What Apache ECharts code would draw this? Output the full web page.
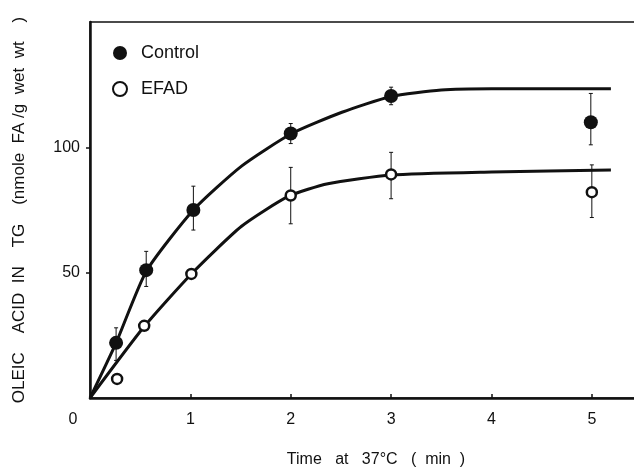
<!DOCTYPE html>
<html>
<head>
<meta charset="utf-8">
<script src="https://cdn.jsdelivr.net/npm/echarts@6/dist/echarts.min.js"></script>
<style>
  html, body { margin: 0; padding: 0; background: #fff; }
  #chart { width: 634px; height: 467px; }
</style>
</head>
<body>
<div id="chart"></div>
<script>
// measured points (time in min, oleic acid in nmole FA / g wet wt)
var controlTime = [0.26, 0.56, 1.03, 2.0, 3.0, 4.99];
var controlVal  = [22, 51, 75, 105.5, 120.5, 110];
var controlLow  = [15, 44.5, 67, 101.5, 117, 101];
var controlHigh = [28, 58.5, 84.5, 109.5, 124, 121.5];

var efadTime = [0.27, 0.54, 1.01, 2.0, 3.0, 5.0];
var efadVal  = [7.6, 28.8, 49.5, 80.8, 89.2, 82.1];
var efadLow  = [null, null, null, 69.5, 79.5, 72];
var efadHigh = [null, null, null, 92, 98, 93];

// hand-drawn fitted curves
var controlCurveX = [0, 0.26, 0.56, 1.03, 1.51, 2.01, 2.51, 3.0, 3.5, 4.0, 5.19];
var controlCurveY = [0, 22, 50.5, 75, 92.5, 105.5, 114, 120.3, 122.9, 123.4, 123.4];
var efadCurveX = [0, 0.54, 1.01, 1.51, 1.98, 2.37, 3.0, 4.0, 5.19];
var efadCurveY = [0, 28.5, 49.5, 68.5, 80.5, 85.5, 89, 90.2, 91];

var xTicks = [0, 1, 2, 3, 4, 5];
var yTicks = [50, 100];

var ink = '#111';

function zip(a, b) {
  return a.map(function (v, i) { return [v, b[i]]; });
}

function errRows(t, lo, hi) {
  var rows = [];
  t.forEach(function (v, i) {
    if (lo[i] != null) rows.push([v, lo[i], hi[i]]);
  });
  return rows;
}

function renderErr(params, api) {
  var top = api.coord([api.value(0), api.value(2)]);
  var bot = api.coord([api.value(0), api.value(1)]);
  var cap = 2;
  var st = { stroke: ink, lineWidth: 1 };
  return {
    type: 'group',
    children: [
      { type: 'line', shape: { x1: top[0], y1: top[1], x2: bot[0], y2: bot[1] }, style: st },
      { type: 'line', shape: { x1: top[0] - cap, y1: top[1], x2: top[0] + cap, y2: top[1] }, style: st },
      { type: 'line', shape: { x1: bot[0] - cap, y1: bot[1], x2: bot[0] + cap, y2: bot[1] }, style: st }
    ]
  };
}

var chart = echarts.init(document.getElementById('chart'), null, { renderer: 'canvas' });

chart.setOption({
  backgroundColor: '#fff',
  animation: false,
  textStyle: { fontFamily: 'Liberation Sans, Arial, sans-serif', color: ink },
  grid: {
    left: 90, top: 22, right: -4, bottom: 69,
    outerBoundsMode: 'none',
    show: true, borderColor: ink, borderWidth: 1.5
  },
  legend: {
    orient: 'vertical',
    left: 107, top: 39,
    itemWidth: 32, itemHeight: 14, itemGap: 18,
    textStyle: { fontSize: 18, color: ink },
    data: [
      { name: 'Control', icon: 'circle', itemStyle: { color: ink, opacity: 1 } },
      { name: 'EFAD', icon: 'emptyCircle', itemStyle: { color: ink, borderColor: ink, borderWidth: 2.5, opacity: 1 } }
    ]
  },
  xAxis: {
    type: 'value',
    min: 0, max: 5.46,
    name: 'Time   at   37°C   (  min  )',
    nameLocation: 'middle',
    nameGap: 54,
    nameTextStyle: { fontSize: 16, color: ink, padding: [0, 0, 0, 24] },
    splitLine: { show: false },
    axisLine: { lineStyle: { color: ink, width: 2.5 } },
    axisTick: { inside: true, length: 4, customValues: [1, 2, 3, 4, 5], lineStyle: { color: ink, width: 1.5 } },
    axisLabel: {
      customValues: xTicks,
      margin: 14,
      fontSize: 16,
      color: ink,
      formatter: function (v) { return v === 0 ? '{o|0}' : String(v); },
      rich: { o: { fontSize: 16, color: ink, padding: [0, 34, 0, 0] } }
    }
  },
  yAxis: {
    type: 'value',
    min: 0, max: 150,
    name: 'OLEIC    ACID  IN    TG    (nmole  FA /g  wet  wt    )',
    nameLocation: 'middle',
    nameGap: 62,
    nameTextStyle: { fontSize: 17, color: ink, padding: [0, 0, 0, 0] },
    splitLine: { show: false },
    axisLine: { show: true, lineStyle: { color: ink, width: 2.5 } },
    axisTick: { show: true, length: 4, customValues: yTicks, lineStyle: { color: ink, width: 1.5 } },
    axisLabel: { customValues: yTicks, margin: 10, fontSize: 16, color: ink }
  },
  series: [
    {
      name: 'Control fit', type: 'line', data: zip(controlCurveX, controlCurveY),
      smooth: 0.2, showSymbol: false, z: 2,
      lineStyle: { color: ink, width: 3 }
    },
    {
      name: 'EFAD fit', type: 'line', data: zip(efadCurveX, efadCurveY),
      smooth: 0.2, showSymbol: false, z: 2,
      lineStyle: { color: ink, width: 3 }
    },
    {
      name: 'Control err', type: 'custom', renderItem: renderErr, z: 3,
      data: errRows(controlTime, controlLow, controlHigh)
    },
    {
      name: 'EFAD err', type: 'custom', renderItem: renderErr, z: 3,
      data: errRows(efadTime, efadLow, efadHigh)
    },
    {
      name: 'Control', type: 'scatter', data: zip(controlTime, controlVal),
      symbol: 'circle', symbolSize: 14, z: 5,
      itemStyle: { color: ink, opacity: 1 }
    },
    {
      name: 'EFAD', type: 'scatter', data: zip(efadTime, efadVal),
      symbol: 'circle', symbolSize: 10, z: 5,
      itemStyle: { color: '#fff', borderColor: ink, borderWidth: 2.5, opacity: 1 }
    }
  ]
});
</script>
</body>
</html>
